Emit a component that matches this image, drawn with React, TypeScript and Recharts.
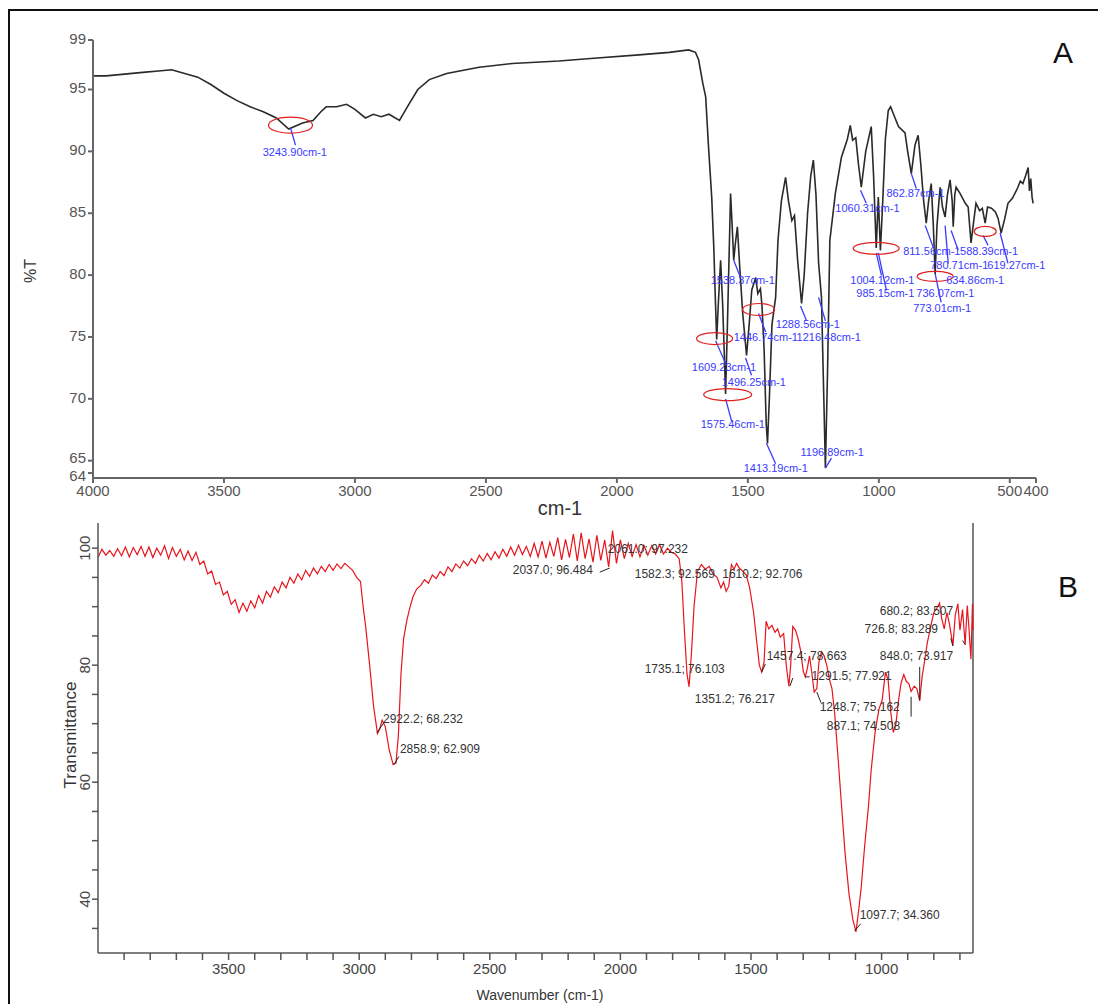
import React from "react";
import { LineChart, Line, XAxis, YAxis, ReferenceDot, ReferenceLine } from "recharts";

// ---- Spectrum A (%T vs cm-1) ----
const waveA = [
  4000, 3950, 3900, 3850, 3800, 3750, 3700, 3650, 3600, 3550, 3500, 3450, 3400, 3350, 3300, 3253, 3200, 3160, 3130, 3110,
  3070, 3032, 3000, 2960, 2930, 2900, 2870, 2830, 2800, 2760, 2716, 2650, 2526, 2400, 2221, 2100, 1916, 1800, 1726, 1700,
  1688, 1672, 1661, 1650, 1638, 1630, 1624, 1619, 1612, 1604, 1596, 1585, 1578, 1570, 1566, 1560, 1554, 1548, 1540, 1532,
  1520, 1505, 1495, 1485, 1470, 1462, 1452, 1446, 1438, 1430, 1425, 1418, 1408, 1394, 1385, 1372, 1356, 1345, 1332, 1322,
  1310, 1295, 1285, 1272, 1260, 1250, 1240, 1230, 1219, 1210, 1204, 1196, 1187, 1166, 1143, 1120, 1109, 1100, 1088, 1078,
  1067, 1050, 1029, 1020, 1010, 1002, 994, 985, 975, 964, 955, 940, 925, 900, 890, 876, 862, 850, 840, 829,
  819, 810, 800, 792, 785, 778, 766, 757, 747, 738, 728, 720, 716, 710, 705, 690, 670, 659, 648, 640,
  629, 615, 605, 594, 585, 570, 555, 545, 533, 520, 507, 490, 469, 460, 450, 440, 430, 425, 420, 415, 411,
];
const transA = [
  96.1, 96.1, 96.2, 96.3, 96.4, 96.5, 96.6, 96.3, 96.0, 95.4, 94.7, 94.1, 93.6, 93.2, 92.7, 91.8, 92.3, 92.5, 93.2, 93.6,
  93.6, 93.8, 93.4, 92.7, 93.0, 92.8, 93.0, 92.5, 93.6, 95.0, 95.8, 96.3, 96.8, 97.1, 97.3, 97.5, 97.8, 98.0, 98.2, 98.0,
  97.4, 95.5, 94.4, 90.3, 86.3, 82.2, 78.0, 74.8, 78.0, 81.2, 77.5, 70.4, 76.0, 83.0, 86.6, 84.0, 81.2, 82.5, 83.9, 81.0,
  77.0, 73.5, 76.0, 78.8, 79.8, 78.5, 78.9, 77.5, 74.0, 68.0, 66.4, 70.0, 76.0, 78.2, 82.8, 86.0, 87.9, 86.0, 84.4, 84.8,
  81.2, 77.7, 80.0, 85.0, 88.0, 89.3, 86.5, 81.0, 78.2, 70.0, 64.4, 72.0, 82.8, 86.6, 89.5, 91.0, 92.1, 90.9, 91.1, 89.0,
  87.1, 90.0, 92.0, 88.0, 82.2, 86.3, 82.0, 86.0, 91.0, 93.3, 93.6, 92.8, 92.0, 91.5, 90.0, 88.2, 90.5, 91.3, 89.0, 86.0,
  84.2, 86.0, 87.4, 84.0, 80.1, 84.0, 87.1, 85.5, 84.7, 86.5, 87.7, 86.0, 83.9, 86.5, 87.1, 86.6, 85.8, 85.5, 82.6, 84.0,
  85.8, 85.2, 85.4, 84.2, 85.5, 85.4, 85.1, 84.6, 83.4, 84.5, 85.8, 86.2, 87.1, 87.6, 87.4, 88.0, 88.7, 86.8, 87.8, 86.3, 85.8,
];
const ticksAX = [4000, 3500, 3000, 2500, 2000, 1500, 1000, 500, 400];
const ticksAY = [64, 65, 70, 75, 80, 85, 90, 95, 99];

// peak labels of A: [text, wavenumber, %T]
const labelsA: [string, number, number][] = [
  ["3243.90cm-1", 3352, 89.85],
  ["1609.23cm-1", 1714, 72.52],
  ["1496.25cm-1", 1600, 71.31],
  ["1575.46cm-1", 1680, 67.91],
  ["1413.19cm-1", 1516, 64.34],
  ["1196.89cm-1", 1299, 65.64],
  ["1538.37cm-1", 1642, 79.49],
  ["1446.74cm-1", 1554, 74.87],
  ["1216.48cm-1", 1314, 74.87],
  ["1288.56cm-1", 1394, 75.92],
  ["1060.31cm-1", 1166, 85.32],
  ["862.87cm-1", 971, 86.53],
  ["1004.12cm-1", 1109, 79.49],
  ["985.15cm-1", 1086, 78.43],
  ["736.07cm-1", 857, 78.43],
  ["773.01cm-1", 869, 77.22],
  ["811.56cm-1", 907, 81.83],
  ["588.39cm-1", 690, 81.83],
  ["780.71cm-1", 804, 80.7],
  ["619.27cm-1", 586, 80.7],
  ["634.86cm-1", 743, 79.49],
];
// leader lines of A: [w1, t1, w2, t2]
const leadersA: [number, number, number, number][] = [
  [3246, 91.9, 3227, 90.5],
  [1623, 74.7, 1585, 72.85],
  [1585, 70.0, 1562, 68.2],
  [1509, 73.3, 1486, 71.9],
  [1554, 81.2, 1528, 79.8],
  [1459, 76.9, 1432, 75.4],
  [1429, 66.4, 1394, 64.75],
  [1299, 77.5, 1276, 76.3],
  [1230, 78.2, 1204, 76.3],
  [1204, 64.4, 1181, 65.2],
  [1070, 86.85, 1048, 85.8],
  [876, 88.2, 857, 87.0],
  [1010, 81.8, 990, 79.97],
  [1002, 81.8, 971, 78.76],
  [823, 84.0, 792, 82.24],
  [747, 84.0, 735, 80.94],
  [785, 80.1, 762, 77.8],
  [724, 83.6, 697, 82.0],
  [602, 83.2, 583, 82.4],
  [537, 83.4, 507, 80.94],
];
// red ellipses of A: [w, t, rx, ry]
const ringsA: [number, number, number, number][] = [
  [3246, 92.12, 22, 8],
  [1627, 74.87, 18, 6],
  [1577, 70.34, 24, 6],
  [1459, 77.22, 16, 6],
  [1010, 82.16, 23, 6],
  [785, 79.89, 18, 5],
  [594, 83.53, 11, 5],
];

// ---- Spectrum B (Transmittance vs Wavenumber) ----
const waveB = [
  4000, 3985, 3970, 3955, 3940, 3925, 3910, 3895, 3880, 3865, 3850, 3835, 3820, 3805, 3790, 3775, 3760, 3745, 3730, 3715,
  3700, 3685, 3670, 3655, 3640, 3625, 3610, 3595, 3580, 3565, 3550, 3535, 3520, 3505, 3490, 3475, 3460, 3445, 3430, 3415,
  3400, 3385, 3370, 3355, 3340, 3325, 3310, 3295, 3280, 3265, 3250, 3235, 3220, 3205, 3190, 3175, 3160, 3145, 3130, 3115,
  3100, 3085, 3070, 3055, 3040, 3025, 3010, 2995, 2985, 2975, 2960, 2945, 2930, 2922, 2912, 2900, 2885, 2870, 2859, 2850,
  2840, 2830, 2817, 2805, 2794, 2780, 2765, 2750, 2735, 2720, 2705, 2690, 2675, 2660, 2645, 2630, 2615, 2600, 2585, 2570,
  2555, 2540, 2525, 2510, 2495, 2480, 2465, 2450, 2435, 2420, 2405, 2390, 2375, 2360, 2345, 2330, 2315, 2300, 2285, 2270,
  2255, 2240, 2225, 2210, 2195, 2180, 2165, 2150, 2135, 2120, 2105, 2090, 2075, 2060, 2045, 2030, 2015, 2000, 1985, 1970,
  1955, 1940, 1925, 1910, 1895, 1880, 1865, 1850, 1835, 1820, 1805, 1790, 1775, 1765, 1755, 1745, 1737, 1728, 1718, 1705,
  1690, 1675, 1660, 1645, 1630, 1615, 1605, 1595, 1585, 1575, 1565, 1555, 1545, 1530, 1518, 1505, 1490, 1478, 1468, 1459,
  1450, 1442, 1432, 1420, 1408, 1398, 1388, 1375, 1365, 1355, 1348, 1340, 1330, 1320, 1310, 1300, 1292, 1284, 1276, 1268,
  1258, 1248, 1240, 1230, 1220, 1210, 1200, 1190, 1180, 1168, 1155, 1140, 1125, 1110, 1098, 1088, 1078, 1065, 1050, 1040,
  1025, 1010, 998, 985, 975, 965, 955, 945, 935, 925, 915, 905, 895, 887, 875, 865, 854, 845, 835, 825,
  812, 800, 790, 778, 770, 760, 750, 740, 727, 718, 708, 700, 690, 680, 672, 665, 658, 652, 650,
];
const transB = [
  98.4, 99.8, 98.8, 99.6, 98.6, 99.9, 98.7, 100.2, 98.5, 100.1, 98.9, 100.3, 98.6, 100.2, 98.4, 100.0, 98.8, 100.4, 98.2, 100.1,
  98.6, 99.8, 98.0, 99.5, 97.9, 99.3, 97.2, 97.8, 95.6, 96.1, 93.8, 94.2, 92.0, 92.6, 90.4, 91.2, 89.0, 90.6, 89.2, 91.0,
  89.8, 91.9, 90.6, 92.6, 91.6, 93.4, 92.4, 94.2, 93.2, 95.0, 94.0, 95.6, 94.6, 96.2, 95.2, 96.6, 95.6, 96.9, 96.0, 97.2,
  96.2, 97.3, 96.5, 97.4, 96.8, 96.2, 95.0, 94.3, 90.0, 86.5, 80.0, 73.0, 68.3, 69.0, 70.6, 69.5, 65.5, 63.0, 63.3, 68.0,
  78.5, 84.5, 87.8, 90.0, 91.7, 93.0, 93.6, 94.6, 94.0, 95.4, 94.8, 96.0, 95.3, 96.8, 96.0, 97.3, 96.6, 97.8, 97.0, 98.2,
  97.4, 98.8, 97.8, 99.1, 98.0, 99.4, 98.3, 99.8, 98.6, 100.2, 98.8, 100.5, 98.9, 100.3, 98.6, 100.8, 98.5, 101.2, 98.3, 101.0,
  98.6, 101.8, 98.0, 101.5, 98.4, 102.4, 97.8, 102.6, 98.2, 101.6, 97.6, 102.2, 97.9, 101.4, 96.8, 103.0, 97.4, 101.4, 98.2, 100.8,
  98.6, 100.6, 98.5, 100.5, 98.8, 100.4, 99.0, 100.6, 99.0, 100.0, 99.3, 99.0, 98.2, 94.5, 86.0, 78.5, 76.3, 82.0, 90.0, 96.0,
  97.2, 96.4, 96.9, 95.6, 95.0, 93.2, 94.2, 92.6, 93.5, 97.2, 96.4, 97.4, 96.6, 96.0, 95.4, 93.2, 89.0, 84.0, 80.0, 78.8,
  80.5, 87.5, 86.2, 86.8, 85.6, 86.2, 84.8, 85.4, 80.0, 76.4, 80.0, 86.6, 86.0, 84.6, 82.5, 79.0, 78.0, 79.5, 81.6, 79.0,
  75.4, 76.0, 80.5, 82.3, 81.6, 80.0, 77.6, 76.0, 72.0, 65.0, 57.0, 48.0, 41.0, 36.5, 34.4, 38.0, 42.0, 49.0, 56.0, 62.0,
  68.5, 72.5, 74.0, 78.8, 77.5, 72.0, 68.5, 70.0, 74.0, 77.0, 78.4, 77.2, 76.8, 75.5, 76.4, 76.0, 73.9, 78.0, 80.8, 83.8,
  86.6, 89.0, 89.6, 90.6, 88.0, 86.2, 89.0, 87.0, 83.3, 88.5, 90.5, 86.0, 89.5, 83.5, 90.2, 86.0, 81.0, 90.5, 86.0,
];
const ticksBX = [3900, 3800, 3700, 3600, 3500, 3400, 3300, 3200, 3100, 3000, 2900, 2800, 2700, 2600, 2500, 2400, 2300, 2200, 2100, 2000, 1900, 1800, 1700, 1600, 1500, 1400, 1300, 1200, 1100, 1000, 900, 800, 700];
const ticksBY = [35, 40, 45, 50, 55, 60, 65, 70, 75, 80, 85, 90, 95, 100];

// peak labels of B: [text, wavenumber, T]
const labelsB: [string, number, number][] = [
  ["2922.2; 68.232", 2909, 70.7],
  ["2858.9; 62.909", 2844, 65.6],
  ["2037.0; 96.484", 2412, 96.08],
  ["2061.0; 97.232", 2048, 99.66],
  ["1582.3; 92.569", 1945, 95.4],
  ["1610.2; 92.706", 1610, 95.4],
  ["1735.1; 76.103", 1907, 79.21],
  ["1351.2; 76.217", 1715, 74.1],
  ["1457.4; 78.663", 1440, 81.43],
  ["1291.5; 77.921", 1268, 78.02],
  ["1248.7; 75.162", 1237, 72.74],
  ["887.1; 74.508", 1210, 69.5],
  ["848.0; 73.917", 1007, 81.43],
  ["726.8; 83.289", 1065, 86.03],
  ["680.2; 83.507", 1007, 89.09],
  ["1097.7; 34.360", 1084, 37.12],
];
// small black leader marks of B: [w1, t1, w2, t2]
const leadersB: [number, number, number, number][] = [
  [2079, 95.9, 2041, 96.6],
  [2932, 68.5, 2905, 70.2],
  [2867, 63.0, 2848, 64.4],
  [1103, 34.6, 1080, 35.8],
  [854, 79.7, 854, 74.1],
  [887, 74.6, 887, 71.2],
  [1459, 78.8, 1445, 80.2],
  [1351, 76.4, 1340, 77.8],
  [1292, 78.0, 1275, 78.0],
  [1248, 75.4, 1232, 73.6],
  [727, 83.3, 735, 84.6],
  [690, 84.2, 680, 83.5],
];

const dataA = waveA.map((w, i) => ({ w, t: transA[i] }));
const dataB = waveB.map((w, i) => ({ w, t: transB[i] }));

const FONT = "'Liberation Sans', Arial, sans-serif";

function TickAY(props: any) {
  const { x, y, payload } = props;
  const dy = payload.value === 64 ? 4 : payload.value === 65 ? -2 : 0;
  return (
    <text x={x} y={y + dy} textAnchor="end" dominantBaseline="middle" fontSize={15} fill="#555" fontFamily={FONT}>
      {payload.value}
    </text>
  );
}

function TickBX(props: any) {
  const { x, y, payload } = props;
  if (payload.value % 500 !== 0) return null;
  return (
    <text x={x} y={y + 12} textAnchor="middle" fontSize={15} fill="#444" fontFamily={FONT}>
      {payload.value}
    </text>
  );
}

function TickBY(props: any) {
  const { x, y, payload } = props;
  if (payload.value % 20 !== 0) return null;
  return (
    <text
      x={x}
      y={y}
      transform={`rotate(-90, ${x}, ${y})`}
      textAnchor="middle"
      fontSize={15}
      fill="#444"
      fontFamily={FONT}
    >
      {payload.value}
    </text>
  );
}

export default function App() {
  return (
    <div
      style={{
        position: "absolute",
        left: 0,
        top: 0,
        width: 1098,
        height: 1004,
        background: "#fff",
        fontFamily: FONT,
        overflow: "hidden",
      }}
    >
      <div style={{ position: "absolute", left: 8, top: 9, width: 1090, height: 1000, borderLeft: "2px solid #111", borderTop: "2px solid #111" }} />

      {/* panel A */}
      <div style={{ position: "absolute", left: 0, top: 0 }}>
        <LineChart width={1098} height={510} data={dataA} margin={{ top: 40, right: 62, left: 43, bottom: 2 }}>
          <XAxis
            dataKey="w"
            type="number"
            domain={[400, 4000]}
            reversed
            ticks={ticksAX}
            interval={0}
            tickSize={5}
            stroke="#666"
            strokeWidth={2}
            tick={{ fontSize: 15, fill: "#555", fontFamily: FONT }}
            height={30}
          />
          <YAxis
            type="number"
            domain={[63.6, 99]}
            ticks={ticksAY}
            interval={0}
            tickSize={5}
            stroke="#666"
            strokeWidth={2}
            tick={<TickAY />}
            width={50}
            allowDataOverflow
          />
          <Line dataKey="t" stroke="#2a2a2a" strokeWidth={1.6} dot={false} isAnimationActive={false} />
          {leadersA.map(([w1, t1, w2, t2], i) => (
            <ReferenceLine
              key={"la" + i}
              segment={[{ x: w1, y: t1 }, { x: w2, y: t2 }]}
              stroke="#3b3bff"
              strokeWidth={1.3}
              ifOverflow="visible"
            />
          ))}
          {ringsA.map(([w, t, rx, ry], i) => (
            <ReferenceDot
              key={"ra" + i}
              x={w}
              y={t}
              r={1}
              ifOverflow="visible"
              shape={(p: any) => <ellipse cx={p.cx} cy={p.cy} rx={rx} ry={ry} fill="none" stroke="#e02020" strokeWidth={1.2} />}
            />
          ))}
          {labelsA.map(([text, w, t], i) => (
            <ReferenceDot
              key={"ta" + i}
              x={w}
              y={t}
              r={1}
              ifOverflow="visible"
              shape={(p: any) => (
                <text x={p.cx} y={p.cy} dominantBaseline="middle" fontSize={11} fill="#3a3aff" fontFamily={FONT}>
                  {text}
                </text>
              )}
            />
          ))}
        </LineChart>
      </div>

      {/* panel B */}
      <div style={{ position: "absolute", left: 0, top: 505 }}>
        <LineChart width={1098} height={499} data={dataB} margin={{ top: 18, right: 125, left: 48, bottom: 21 }}>
          <XAxis
            dataKey="w"
            type="number"
            domain={[650, 4000]}
            reversed
            ticks={ticksBX}
            interval={0}
            tickSize={7}
            stroke="#555"
            strokeWidth={1.5}
            tick={<TickBX />}
            height={30}
          />
          <YAxis
            type="number"
            domain={[30.8, 104.3]}
            ticks={ticksBY}
            interval={0}
            tickSize={6}
            stroke="#555"
            strokeWidth={1.5}
            tick={<TickBY />}
            width={50}
            allowDataOverflow
          />
          <ReferenceLine x={650} stroke="#555" strokeWidth={1.5} ifOverflow="visible" />
          <Line dataKey="t" stroke="#e8141c" strokeWidth={1.2} dot={false} isAnimationActive={false} />
          {leadersB.map(([w1, t1, w2, t2], i) => (
            <ReferenceLine
              key={"lb" + i}
              segment={[{ x: w1, y: t1 }, { x: w2, y: t2 }]}
              stroke="#222"
              strokeWidth={1}
              ifOverflow="visible"
            />
          ))}
          {labelsB.map(([text, w, t], i) => (
            <ReferenceDot
              key={"tb" + i}
              x={w}
              y={t}
              r={1}
              ifOverflow="visible"
              shape={(p: any) => (
                <text x={p.cx} y={p.cy} dominantBaseline="middle" fontSize={12} fill="#333" fontFamily={FONT}>
                  {text}
                </text>
              )}
            />
          ))}
        </LineChart>
      </div>

      {/* axis titles and panel letters */}
      <div style={{ position: "absolute", left: 560, top: 508, transform: "translate(-50%,-50%)", fontSize: 20, color: "#333" }}>cm-1</div>
      <div style={{ position: "absolute", left: 31, top: 271, transform: "translate(-50%,-50%) rotate(-90deg)", fontSize: 16, color: "#333" }}>%T</div>
      <div style={{ position: "absolute", left: 1063, top: 53, transform: "translate(-50%,-50%)", fontSize: 30, color: "#111" }}>A</div>
      <div style={{ position: "absolute", left: 1068, top: 587, transform: "translate(-50%,-50%)", fontSize: 30, color: "#111" }}>B</div>
      <div style={{ position: "absolute", left: 540, top: 995, transform: "translate(-50%,-50%)", fontSize: 14, color: "#333" }}>Wavenumber (cm-1)</div>
      <div style={{ position: "absolute", left: 71, top: 735, transform: "translate(-50%,-50%) rotate(-90deg)", fontSize: 17, color: "#333", whiteSpace: "nowrap" }}>Transmittance</div>
    </div>
  );
}
